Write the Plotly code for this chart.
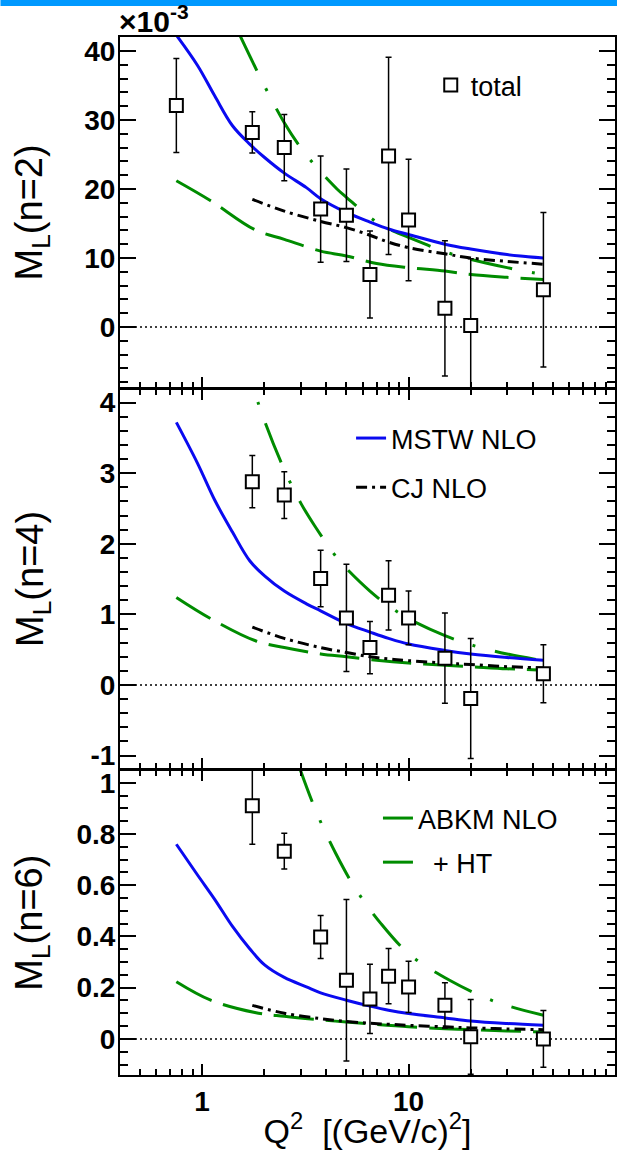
import plotly.graph_objects as go

# ---------------- data ----------------
q2_data = [0.75, 1.75, 2.5, 3.75, 5, 6.5, 8, 10, 15, 20, 45]
n2_val = [32.1, 28.2, 26.0, 17.1, 16.2, 7.6, 24.8, 15.5, 2.7, 0.2, 5.4]
n2_err = [6.8, 3.0, 4.8, 7.7, 6.7, 6.3, 14.3, 8.8, 9.8, 9.7, 11.2]

q2_data_hi = [1.75, 2.5, 3.75, 5, 6.5, 8, 10, 15, 20, 45]
n4_val = [2.88, 2.69, 1.51, 0.95, 0.53, 1.27, 0.95, 0.38, -0.19, 0.16]
n4_err = [0.37, 0.33, 0.40, 0.76, 0.37, 0.49, 0.38, 0.64, 0.85, 0.41]
n6_val = [0.91, 0.733, 0.398, 0.229, 0.156, 0.245, 0.203, 0.131, 0.008, 0.0]
n6_err = [0.15, 0.07, 0.084, 0.315, 0.135, 0.108, 0.10, 0.088, 0.146, 0.111]

q2_mstw = [0.75, 0.95, 1.15, 1.4, 1.7, 2.0, 2.5, 3.2, 3.75, 5, 6.5, 8, 10, 15, 20, 30, 45]
mstw_n2 = [42.3, 37.9, 33.5, 29.2, 26.5, 24.6, 22.3, 20.2, 18.6, 16.6, 15.2, 14.2, 13.4, 12.0, 11.3, 10.5, 10.0]
mstw_n4 = [3.72, 3.14, 2.62, 2.17, 1.76, 1.55, 1.33, 1.15, 1.05, 0.87, 0.75, 0.66, 0.58, 0.49, 0.44, 0.39, 0.35]
mstw_n6 = [0.76, 0.64, 0.545, 0.44, 0.352, 0.29, 0.24, 0.203, 0.18, 0.151, 0.128, 0.112, 0.099, 0.082, 0.07, 0.06, 0.053]

q2_cj = [1.75, 2.5, 3.75, 5, 6.5, 8, 10, 15, 20, 30, 45]
cj_n2 = [18.5, 16.8, 15.3, 14.4, 13.3, 12.3, 11.5, 10.6, 10.0, 9.5, 9.1]
cj_n4 = [0.82, 0.66, 0.53, 0.46, 0.40, 0.37, 0.345, 0.31, 0.29, 0.26, 0.24]
cj_n6 = [0.131, 0.10, 0.079, 0.068, 0.061, 0.057, 0.053, 0.047, 0.043, 0.039, 0.036]

q2_ht = [0.75, 1.1, 1.8, 2.5, 3.75, 5, 7, 10, 15, 20, 30, 45]
ht_n2 = [21.2, 18.3, 14.1, 12.7, 11.0, 10.3, 9.2, 8.6, 8.1, 7.6, 7.2, 6.9]
ht_n4 = [1.24, 0.94, 0.63, 0.53, 0.44, 0.40, 0.35, 0.31, 0.28, 0.26, 0.23, 0.21]
ht_n6 = [0.223, 0.151, 0.103, 0.088, 0.074, 0.066, 0.056, 0.047, 0.040, 0.036, 0.031, 0.027]

q2_abkm = [1.5, 2, 2.5, 3, 3.5, 4.5, 5, 6.5, 8, 10, 15, 20, 30, 45]
abkm_n2 = [42.7, 35.0, 29.6, 26.0, 23.5, 20.0, 18.8, 15.9, 14.2, 13.0, 10.9, 9.8, 8.6, 7.6]
abkm_n4 = [4.85, 3.75, 3.05, 2.58, 2.26, 1.80, 1.65, 1.33, 1.12, 0.94, 0.70, 0.57, 0.44, 0.345]
q2_abkm6 = [2.9, 3.57, 4.44, 5.53, 7.35, 10.2, 15.8, 24, 30, 45]
abkm_n6 = [1.08, 0.887, 0.724, 0.587, 0.45, 0.327, 0.229, 0.158, 0.13, 0.092]

x_tickvals = [1, 10]
x_ticktext = ["1", "10"]
x_minor = [0.4, 0.5, 0.6, 0.7, 0.8, 0.9, 2, 3, 4, 5, 6, 7, 8, 9,
           20, 30, 40, 50, 60, 70, 80, 90]

y2_ticks = [0, 10, 20, 30, 40]
y2_text = ["0", "10", "20", "30", "40"]
y4_ticks = [-1, 0, 1, 2, 3, 4]
y4_text = ["-1", "0", "1", "2", "3", "4"]
y6_ticks = [0, 0.2, 0.4, 0.6, 0.8, 1.0]
y6_text = ["0", "0.2", "0.4", "0.6", "0.8", "1"]

# ---------------- styles ----------------
BLUE = "rgb(10,10,240)"
GREEN = "rgb(0,140,0)"
FONT = "Liberation Sans, Arial, Helvetica, sans-serif"
LW = 3
DASH_ABKM = "42px,20px,3px,20px"
DASH_HT = "40px,12px"
DASH_CJ = "11px,5px,3px,5px"
TICKSIZE = 28

fig = go.Figure()

panels = [
    ("x3", "y3", q2_data, n2_val, n2_err, mstw_n2, cj_n2, ht_n2, q2_abkm, abkm_n2),
    ("x2", "y2", q2_data_hi, n4_val, n4_err, mstw_n4, cj_n4, ht_n4, q2_abkm, abkm_n4),
    ("x", "y", q2_data_hi, n6_val, n6_err, mstw_n6, cj_n6, ht_n6, q2_abkm6, abkm_n6),
]

for i, (xa, ya, qd, vals, errs, ms, cj, ht, qa, ab) in enumerate(panels):
    fig.add_trace(go.Scatter(
        x=qa, y=ab, xaxis=xa, yaxis=ya, mode="lines", name="ABKM NLO",
        line=dict(color=GREEN, width=LW, dash=DASH_ABKM, shape="spline", smoothing=1.0),
        showlegend=(i == 2), legend="legend3", legendgroup="g_abkm"))
    fig.add_trace(go.Scatter(
        x=q2_ht, y=ht, xaxis=xa, yaxis=ya, mode="lines", name="\u00a0\u00a0+ HT",
        line=dict(color=GREEN, width=LW, dash=DASH_HT, shape="spline", smoothing=1.0),
        showlegend=(i == 2), legend="legend3", legendgroup="g_ht"))
    fig.add_trace(go.Scatter(
        x=q2_mstw, y=ms, xaxis=xa, yaxis=ya, mode="lines", name="MSTW NLO",
        line=dict(color=BLUE, width=LW, shape="spline", smoothing=1.0),
        showlegend=(i == 1), legend="legend2", legendgroup="g_mstw"))
    fig.add_trace(go.Scatter(
        x=q2_cj, y=cj, xaxis=xa, yaxis=ya, mode="lines", name="CJ NLO",
        line=dict(color="black", width=LW, dash=DASH_CJ, shape="spline", smoothing=1.0),
        showlegend=(i == 1), legend="legend2", legendgroup="g_cj"))
    fig.add_trace(go.Scatter(
        x=qd, y=vals, xaxis=xa, yaxis=ya, mode="markers", name="total",
        marker=dict(symbol="square", size=13, color="white",
                    line=dict(color="black", width=2)),
        error_y=dict(type="data", array=errs, color="black", thickness=1.5, width=3),
        showlegend=(i == 0), legend="legend", legendgroup="g_tot"))
    fig.add_shape(type="line", xref=xa + " domain", x0=0, x1=1, yref=ya, y0=0, y1=0,
                  line=dict(color="black", width=1.5, dash="2px,3px"), layer="below")

# ---------------- layout ----------------
PH = 1038.0  # plot area height (px)
def py(px):
    return (1075.0 - px) / PH

xcommon = dict(type="log", range=[-0.39794, 2.0], showline=True, linecolor="black",
               linewidth=2, showgrid=False, zeroline=False,
               tickmode="array", tickvals=x_tickvals, ticktext=x_ticktext,
               ticks="inside", ticklen=11, tickwidth=1.5, tickcolor="black",
               minor=dict(tickmode="array", tickvals=x_minor, ticks="inside",
                          ticklen=6, tickwidth=1.5, tickcolor="black"),
               tickfont=dict(family=FONT, size=TICKSIZE, color="black", weight="bold"))

ycommon = dict(showline=True, linecolor="black", linewidth=2, showgrid=False,
               zeroline=False, ticks="inside", ticklen=16, tickwidth=1.5,
               tickcolor="black", mirror="ticks", tickmode="array",
               tickfont=dict(family=FONT, size=TICKSIZE, color="black", weight="bold"),
               ticklabelstandoff=-3)

legfont = dict(family=FONT, size=27, color="black")
layout = dict(
    width=618, height=1150,
    margin=dict(l=120, r=1, t=37, b=75),
    paper_bgcolor="white", plot_bgcolor="white",
    font=dict(family=FONT, color="black"),
    xaxis=dict(xcommon, domain=[0, 1], anchor="y", mirror="ticks",
               showticklabels=True, ticklabelstandoff=0,
               title=dict(text="Q<sup>2</sup>  [(GeV/c)<sup>2</sup>]",
                          font=dict(family=FONT, size=34, color="black"), standoff=0)),
    xaxis2=dict(xcommon, domain=[0, 1], anchor="y2", mirror="ticks",
                showticklabels=False, matches="x"),
    xaxis3=dict(xcommon, domain=[0, 1], anchor="y3", mirror=True,
                showticklabels=False, matches="x"),
    yaxis=dict(ycommon, domain=[0, py(770)], range=[-0.141, 1.05], anchor="x",
               tickvals=y6_ticks, ticktext=y6_text,
               minor=dict(dtick=0.05, ticks="inside", ticklen=8, tickwidth=1.5, tickcolor="black")),
    yaxis2=dict(ycommon, domain=[py(769), py(388.5)], range=[-1.19, 4.2], anchor="x2",
                tickvals=y4_ticks, ticktext=y4_text,
                minor=dict(dtick=0.2, ticks="inside", ticklen=8, tickwidth=1.5, tickcolor="black")),
    yaxis3=dict(ycommon, domain=[py(387.5), 1], range=[-8.77, 42.03], anchor="x3",
                tickvals=y2_ticks, ticktext=y2_text,
                minor=dict(dtick=2, ticks="inside", ticklen=8, tickwidth=1.5, tickcolor="black")),
    legend=dict(x=(432 - 120) / 497.0, y=py(61), xanchor="left", yanchor="top",
                bgcolor="rgba(0,0,0,0)", borderwidth=0, font=legfont),
    legend2=dict(x=(352 - 120) / 497.0, y=py(414), xanchor="left", yanchor="top",
                 bgcolor="rgba(0,0,0,0)", borderwidth=0, tracegroupgap=11, font=legfont),
    legend3=dict(x=(379 - 120) / 497.0, y=py(794), xanchor="left", yanchor="top",
                 bgcolor="rgba(0,0,0,0)", borderwidth=0, tracegroupgap=6, font=legfont),
    showlegend=True,
)
fig.update_layout(**layout)

ytitles = [("M<sub>L</sub>(n=2)", (37 + 387.5) / 2),
           ("M<sub>L</sub>(n=4)", (388.5 + 769) / 2),
           ("M<sub>L</sub>(n=6)", (770 + 1075) / 2)]
for txt, cy in ytitles:
    fig.add_annotation(text=txt, xref="paper", yref="paper",
                       x=(32 - 120) / 497.0, y=py(cy), textangle=-90,
                       showarrow=False, xanchor="center", yanchor="middle",
                       font=dict(family=FONT, size=38, color="black"))

fig.add_annotation(text="\u00d710<sup>-3</sup>", xref="paper", yref="paper",
                   x=-0.006, y=1.0, xanchor="left", yanchor="bottom", showarrow=False,
                   yshift=-3,
                   font=dict(family=FONT, size=30, color="black", weight="bold"))

fig.add_shape(type="rect", xref="paper", yref="paper",
              x0=-120 / 497.0, x1=1 + 2 / 497.0, y0=py(6), y1=py(-2),
              fillcolor="rgb(0,153,255)", line=dict(width=0), layer="above")

fig.write_html("out.html",
               config={"displayModeBar": False},
               post_script="document.body.style.margin='0px';"
                           "document.body.style.overflow='hidden';")
